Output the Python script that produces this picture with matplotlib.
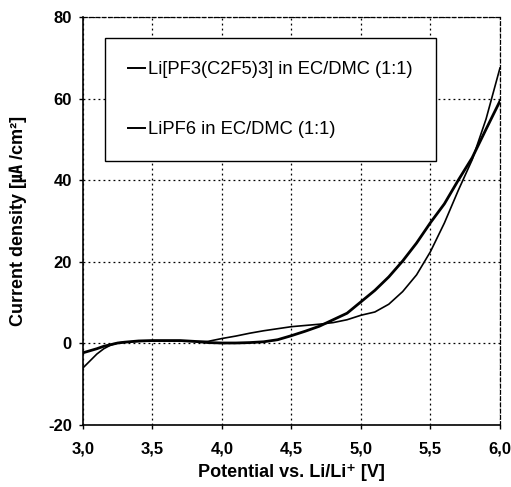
import numpy as np
import matplotlib.pyplot as plt

# potential [V]
x = [3.0, 3.05, 3.1, 3.15, 3.2, 3.25, 3.3, 3.4, 3.5, 3.6, 3.7, 3.8, 3.9, 4.0, 4.1, 4.2, 4.3,
     4.4, 4.5, 4.6, 4.7, 4.8, 4.9, 5.0, 5.1, 5.2, 5.3, 5.4, 5.5, 5.6, 5.7, 5.8, 5.9, 6.0]
# Li[PF3(C2F5)3] in EC/DMC (thin line)
y_fap = [-6.0, -4.3, -2.6, -1.3, -0.4, 0.1, 0.3, 0.5, 0.6, 0.6, 0.6, 0.5, 0.5, 1.2, 1.8, 2.5, 3.1,
         3.6, 4.1, 4.4, 4.7, 5.1, 5.8, 6.9, 7.7, 9.6, 12.7, 16.8, 22.5, 29.5, 37.5, 45.0, 55.0, 67.5]
# LiPF6 in EC/DMC (thick line)
y_pf6 = [-2.3, -1.8, -1.3, -0.7, -0.3, 0.1, 0.3, 0.6, 0.7, 0.7, 0.7, 0.5, 0.2, 0.1, 0.1, 0.2, 0.4,
         0.9, 1.9, 3.0, 4.2, 5.8, 7.4, 10.2, 13.0, 16.3, 20.2, 24.6, 29.6, 34.2, 40.0, 45.5, 52.5, 59.4]

labels = ['Li[PF3(C2F5)3] in EC/DMC (1:1)', 'LiPF6 in EC/DMC (1:1)']
xticks = [3.0, 3.5, 4.0, 4.5, 5.0, 5.5, 6.0]
xticklabels = ['3,0', '3,5', '4,0', '4,5', '5,0', '5,5', '6,0']
yticks = [-20, 0, 20, 40, 60, 80]

plt.rcParams['font.family'] = ['Liberation Sans', 'DejaVu Sans', 'Noto Sans CJK KR']
plt.rcParams['axes.unicode_minus'] = False

fig = plt.figure(figsize=(5.11, 4.87), dpi=100)
ax = fig.add_axes([0.1624, 0.1273, 0.816, 0.8378])

ax.plot(x, y_fap, color='black', lw=1.2, label=labels[0])
ax.plot(x, y_pf6, color='black', lw=2.0, label=labels[1])

ax.set_xlim(3.0, 6.0)
ax.set_ylim(-20, 80)
ax.set_xticks(xticks)
ax.set_xticklabels(xticklabels)
ax.set_yticks(yticks)
ax.tick_params(axis='both', direction='out', length=3, width=1, labelsize=12)
ax.tick_params(axis='x', pad=9)
ax.tick_params(axis='y', pad=5)
for lab in ax.get_xticklabels() + ax.get_yticklabels():
    lab.set_fontweight('bold')

ax.grid(True, color='black', linestyle=(0, (1.5, 2.5)), linewidth=0.9)
for s in ['left', 'bottom']:
    ax.spines[s].set_linewidth(1.2)
for s in ['top', 'right']:
    ax.spines[s].set_linestyle((0, (3, 2)))
    ax.spines[s].set_linewidth(0.9)

ax.set_xlabel('Potential vs. Li/Li\u207a [V]', fontsize=13, fontweight='bold', labelpad=5)
ax.set_ylabel('Current density [\u3382 /cm\u00b2]', fontsize=13, fontweight='bold', labelpad=15,
              family=['Liberation Sans', 'Noto Sans CJK KR', 'DejaVu Sans'])

leg = ax.legend(loc='upper left', bbox_to_anchor=(0.053, 0.9485), borderaxespad=0,
                fontsize=13.2, frameon=True, fancybox=False, edgecolor='black',
                framealpha=1, borderpad=1.25, labelspacing=2.35, handlelength=0.9,
                handletextpad=0.2)
leg.get_frame().set_linewidth(1.0)
for h in leg.get_lines():
    h.set_linewidth(1.4)

fig.savefig('out.png', dpi=100)
